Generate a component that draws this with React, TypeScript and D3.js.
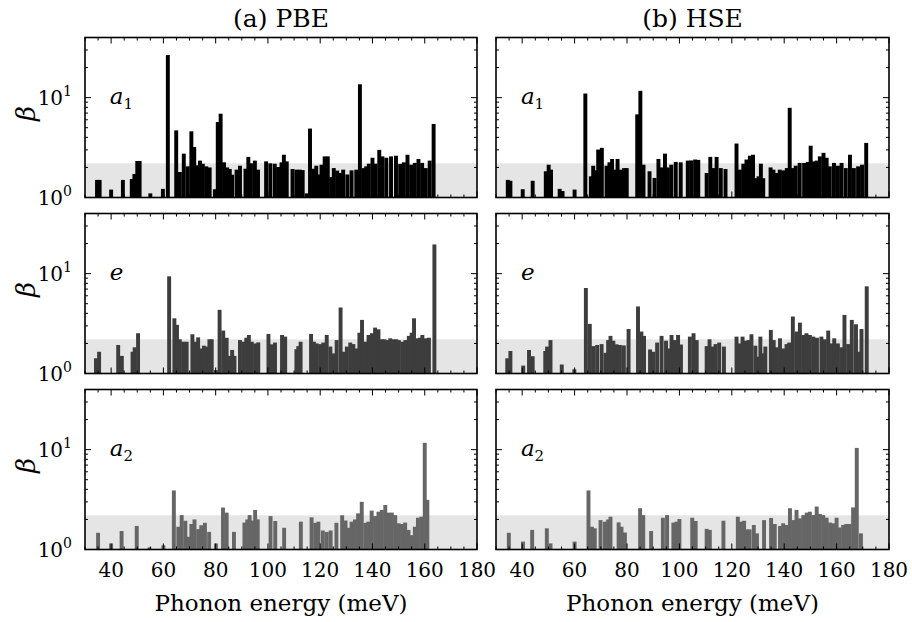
import React from "react";
import * as d3 from "d3";

type Bar = [number, number];

// phonon energy (meV), beta
const pbeA1: Bar[] = [
  [34.6,1.5],[35.6,1.5],[40.0,1.2],[44.5,1.5],[47.9,1.53],[48.9,1.72],[50.0,2.32],[50.9,2.32],[55.0,1.1],[59.8,1.22],
  [61.7,26.7],[64.9,4.7],[66.3,1.8],[67.8,2.75],[69.3,2.05],[70.7,4.6],[71.8,3.2],[72.9,2.1],[74.0,2.34],[75.1,2.18],
  [76.4,2.05],[77.7,2.0],[79.7,1.21],[80.8,5.7],[81.9,6.9],[83.2,2.25],[84.4,2.0],[85.4,1.93],[86.3,1.69],[88.0,1.9],
  [89.3,2.08],[91.4,1.94],[92.5,2.55],[93.5,2.2],[95.0,2.34],[96.2,1.9],[99.3,2.3],[100.9,2.2],[102.6,2.18],[103.9,2.02],
  [105.2,2.25],[106.1,2.68],[107.2,2.3],[109.4,1.93],[110.9,1.9],[112.2,1.9],[113.3,1.88],[114.8,1.1],[116.1,4.9],[117.5,1.94],
  [118.5,2.08],[119.5,1.7],[120.5,2.13],[121.7,2.58],[122.9,2.58],[124.2,1.6],[125.2,1.97],[126.5,1.86],[127.6,1.76],[128.8,1.9],
  [130.4,1.7],[132.0,1.87],[133.8,1.9],[135.2,13.6],[136.5,1.97],[137.6,2.05],[138.6,2.18],[140.0,2.5],[141.2,2.18],[142.6,3.0],
  [143.8,2.58],[145.3,2.5],[147.1,2.58],[149.0,2.62],[150.6,2.17],[152.0,2.25],[153.4,2.68],[154.8,2.13],[156.2,2.22],[157.6,2.43],
  [159.0,2.22],[160.4,1.97],[161.9,2.34],[163.4,5.45],
];

const hseA1: Bar[] = [
  [34.5,1.5],[35.5,1.47],[40.2,1.21],[44.0,1.47],[49.0,1.83],[50.1,2.13],[51.0,1.9],[54.3,1.22],[55.4,1.16],[60.0,1.2],
  [64.1,11.0],[66.2,1.63],[67.1,2.08],[68.0,1.87],[69.0,3.02],[70.4,3.14],[72.2,2.08],[73.3,2.25],[74.3,2.43],[75.3,1.9],
  [76.4,2.43],[77.7,1.9],[78.9,1.97],[79.9,1.97],[83.9,6.8],[85.1,11.7],[86.3,2.13],[88.6,1.83],[90.5,1.57],[92.0,2.43],
  [93.3,2.0],[94.5,2.75],[95.6,2.0],[96.9,2.13],[98.6,2.27],[100.5,2.25],[103.2,2.34],[104.5,2.35],[106.0,2.4],[107.2,2.38],
  [110.4,1.76],[111.8,2.55],[113.0,1.97],[114.2,2.55],[115.8,1.97],[117.6,1.93],[121.8,3.47],[123.1,1.9],[124.4,2.18],[125.6,2.4],
  [126.9,2.62],[128.1,2.68],[129.1,1.56],[130.2,1.63],[131.1,2.18],[132.0,1.56],[134.8,2.0],[135.9,1.9],[137.1,1.76],[138.3,1.9],
  [139.6,1.87],[141.0,1.97],[142.1,7.9],[143.2,1.97],[144.4,2.08],[145.9,2.22],[147.6,2.22],[149.0,2.27],[150.1,3.3],[151.2,2.3],
  [152.4,2.34],[153.6,2.58],[155.0,2.8],[156.2,2.5],[157.4,2.05],[159.0,2.22],[160.5,2.08],[161.9,2.22],[163.5,1.97],[165.1,2.68],
  [166.6,1.97],[168.2,2.05],[169.7,2.13],[171.3,3.52],
];

const pbeE: Bar[] = [
  [34.2,1.42],[35.4,1.65],[42.7,1.93],[44.1,1.5],[48.2,1.65],[49.0,1.83],[50.3,2.53],[62.2,9.4],[64.2,3.57],[65.2,3.07],
  [66.3,2.2],[67.6,2.08],[68.9,2.08],[71.1,2.47],[72.2,2.08],[73.3,2.3],[74.4,1.78],[75.5,1.9],[76.6,1.86],[77.6,2.2],
  [78.5,2.2],[80.1,1.08],[81.5,4.34],[82.9,2.69],[84.2,2.28],[85.4,1.5],[86.3,1.72],[87.2,1.5],[89.3,2.16],[90.6,2.08],
  [91.7,2.28],[92.7,2.43],[93.8,2.08],[95.1,2.0],[96.3,2.05],[100.2,2.49],[101.5,1.96],[102.7,2.04],[105.4,2.43],[106.6,2.34],
  [110.9,1.75],[111.6,1.88],[112.5,2.08],[116.5,2.49],[117.6,2.08],[118.7,2.0],[120.0,1.97],[121.2,2.04],[122.5,2.43],[123.9,1.86],
  [125.2,1.59],[126.3,2.16],[127.8,4.58],[129.1,1.65],[130.2,1.86],[131.5,2.04],[132.7,1.97],[134.0,1.78],[135.0,2.56],[136.0,3.44],
  [137.2,2.08],[138.5,2.43],[139.8,2.53],[141.0,2.88],[142.3,2.77],[143.6,2.2],[144.6,2.2],[145.6,2.16],[146.8,2.25],[148.0,2.2],
  [149.1,2.2],[150.1,2.16],[151.4,2.08],[152.6,2.16],[153.9,2.38],[155.0,2.56],[155.9,3.57],[157.0,2.25],[158.1,2.28],[159.1,2.43],
  [160.2,2.25],[161.6,2.28],[163.7,19.6],
];

const hseE: Bar[] = [
  [34.3,1.42],[35.5,1.68],[40.4,1.2],[42.6,1.72],[44.0,1.49],[48.8,1.68],[49.5,1.86],[50.8,2.16],[55.1,1.23],[59.9,1.1],
  [64.3,7.18],[65.8,3.14],[67.1,1.88],[68.6,1.93],[70.3,1.97],[71.8,1.61],[72.8,2.16],[73.7,2.38],[74.8,2.13],[76.0,1.96],
  [77.3,1.93],[78.8,1.91],[80.6,2.79],[84.2,4.69],[85.5,2.63],[86.5,2.38],[88.8,1.74],[90.0,1.65],[91.5,2.04],[93.2,2.38],
  [94.9,2.13],[95.9,1.78],[97.0,2.43],[98.3,2.16],[99.5,2.43],[100.6,1.95],[104.0,2.34],[105.4,2.53],[106.6,2.16],[110.4,1.88],
  [111.5,2.2],[112.5,1.86],[113.8,1.97],[115.2,2.04],[117.0,1.86],[121.8,2.34],[123.0,2.0],[124.1,2.34],[125.3,2.13],[126.4,2.16],
  [127.5,2.47],[129.0,1.9],[130.1,1.47],[130.9,2.34],[131.8,1.59],[132.8,1.86],[134.9,2.73],[136.0,2.16],[137.1,1.83],[138.4,2.25],
  [139.6,1.78],[140.9,1.97],[141.9,2.04],[143.3,3.72],[144.7,2.63],[146.0,3.23],[147.3,2.43],[148.5,2.53],[149.8,2.43],[151.1,2.34],
  [152.5,2.28],[154.2,2.34],[155.5,2.2],[156.8,2.69],[157.9,2.0],[159.1,2.25],[160.5,2.0],[161.8,1.83],[163.0,3.86],[164.4,1.97],
  [165.8,3.44],[167.4,3.11],[168.4,1.65],[169.5,2.79],[171.5,7.46],
];

const pbeA2: Bar[] = [
  [35.0,1.47],[40.0,1.15],[44.0,1.53],[49.8,1.72],[54.7,1.05],[60.0,1.1],[64.0,3.9],[65.7,1.69],[67.0,2.21],[68.4,1.94],
  [69.6,1.34],[70.7,1.8],[71.9,2.0],[73.3,1.6],[74.5,1.75],[75.9,1.85],[77.5,1.5],[80.1,1.15],[82.8,2.63],[84.2,2.34],
  [87.0,1.5],[91.0,1.86],[92.1,2.0],[93.0,2.21],[93.9,1.95],[95.1,2.49],[96.1,2.0],[101.0,2.16],[102.8,1.93],[106.2,1.65],
  [112.6,1.9],[116.7,2.1],[118.1,1.85],[119.3,1.9],[121.0,1.55],[122.5,1.5],[124.0,1.55],[126.2,1.85],[128.4,2.2],[129.7,1.95],
  [130.7,1.65],[132.0,1.9],[133.3,2.0],[134.5,2.3],[135.9,3.0],[137.3,1.85],[138.4,1.9],[139.7,2.45],[141.0,2.16],[142.3,2.39],
  [143.6,2.49],[144.9,2.79],[146.1,2.34],[147.4,2.34],[148.7,2.21],[150.0,1.83],[151.3,1.8],[152.5,1.86],[153.8,1.57],[155.1,1.39],
  [156.2,1.69],[157.4,2.08],[158.7,2.13],[160.0,11.7],[161.0,3.14],
];

const hseA2: Bar[] = [
  [34.9,1.47],[40.3,1.2],[43.8,1.57],[49.4,1.63],[50.8,1.15],[60.0,1.2],[65.3,3.9],[66.6,1.69],[67.7,1.63],[69.9,1.97],
  [71.6,1.9],[72.8,2.0],[73.7,2.13],[76.8,1.87],[77.9,1.69],[79.2,1.48],[85.0,2.59],[86.2,2.21],[89.2,1.53],[93.7,2.08],
  [95.3,2.21],[97.7,1.86],[98.9,1.9],[100.0,2.02],[104.9,2.08],[106.2,1.93],[110.4,1.61],[111.6,1.57],[116.8,1.94],[122.3,2.13],
  [123.5,1.9],[124.7,1.94],[125.8,1.59],[126.8,1.59],[128.4,1.76],[129.6,1.45],[132.3,1.97],[135.0,2.07],[136.4,1.8],[138.4,1.72],
  [139.6,1.83],[140.9,1.76],[142.2,2.59],[143.5,1.97],[144.7,2.49],[146.0,2.05],[147.3,2.21],[148.6,2.34],[149.8,2.39],[151.1,2.21],
  [152.4,2.69],[153.6,2.27],[154.9,2.21],[156.2,2.08],[157.5,1.86],[158.7,1.83],[160.0,2.08],[161.2,1.66],[162.5,1.76],[163.7,1.8],
  [165.0,1.8],[166.3,2.64],[167.7,10.4],[169.3,1.45],
];

const columnTitles = ["(a) PBE", "(b) HSE"];
const modeBase = ["a", "e", "a"];
const modeSub = ["1", "", "2"];
const xMajorTicks = [40, 60, 80, 100, 120, 140, 160, 180];
const xMinorTicks = d3.range(30, 181, 5).filter((v) => v % 20 !== 0);
const yMajorTicks = [1, 10];
const yMinorTicks = [2, 3, 4, 5, 6, 7, 8, 9, 20, 30, 40];
const bandLimit = 2.2;

const panels: Bar[][][] = [
  [pbeA1, hseA1],
  [pbeE, hseE],
  [pbeA2, hseA2],
];

const W = 912;
const H = 622;
const colX = [85, 496];
const colW = [392, 393];
const rowY = [37.5, 213.5, 389.5];
const rowH = 160;
const barColors = ["#000000", "#3d3d3d", "#666666"];
const FONT = "'DejaVu Serif', serif";
const BAR_W = 1.5;

function Panel({ data, col, row }: { data: Bar[]; col: number; row: number }) {
  const w = colW[col];
  const h = rowH;
  const x = d3.scaleLinear().domain([30, 180]).range([0, w]);
  const y = d3.scaleLog().domain([1, 40]).range([h, 0]);
  const bw = x(30 + BAR_W) - x(30);
  return (
    <g transform={`translate(${colX[col]},${rowY[row]})`}>
      <rect x={0} y={y(bandLimit)} width={w} height={h - y(bandLimit)} fill="#e5e5e5" />
      {data.map(([e, b], i) => (
        <rect
          key={i}
          x={x(e) - bw / 2}
          y={y(b)}
          width={bw}
          height={h - y(b)}
          fill={barColors[row]}
        />
      ))}
      {xMajorTicks.map((t) => (
        <g key={"xm" + t}>
          <line x1={x(t)} x2={x(t)} y1={h} y2={h - 6} stroke="#000" strokeWidth={1} />
          <line x1={x(t)} x2={x(t)} y1={0} y2={6} stroke="#000" strokeWidth={1} />
        </g>
      ))}
      {xMinorTicks.map((t) => (
        <g key={"xn" + t}>
          <line x1={x(t)} x2={x(t)} y1={h} y2={h - 3} stroke="#000" strokeWidth={1} />
          <line x1={x(t)} x2={x(t)} y1={0} y2={3} stroke="#000" strokeWidth={1} />
        </g>
      ))}
      {yMajorTicks.map((t) => (
        <g key={"ym" + t}>
          <line x1={0} x2={6} y1={y(t)} y2={y(t)} stroke="#000" strokeWidth={1} />
          <line x1={w} x2={w - 6} y1={y(t)} y2={y(t)} stroke="#000" strokeWidth={1} />
        </g>
      ))}
      {yMinorTicks.map((t) => (
        <g key={"yn" + t}>
          <line x1={0} x2={3} y1={y(t)} y2={y(t)} stroke="#000" strokeWidth={1} />
          <line x1={w} x2={w - 3} y1={y(t)} y2={y(t)} stroke="#000" strokeWidth={1} />
        </g>
      ))}
      <rect x={0} y={0} width={w} height={h} fill="none" stroke="#000" strokeWidth={1.6} />
      <text x={x(39.5)} y={y(10) + 6} fontFamily={FONT} fontStyle="italic" fontSize={23}>
        {modeBase[row]}
        {modeSub[row] && (
          <tspan fontStyle="normal" fontSize={15} dy={5}>
            {modeSub[row]}
          </tspan>
        )}
      </text>
      {col === 0 &&
        yMajorTicks.map((t, i) => (
          <text key={"yl" + t} x={-13} y={y(t) + 7} textAnchor="end" fontFamily={FONT} fontSize={20}>
            10
            <tspan fontSize={14} dy={-9}>
              {i}
            </tspan>
          </text>
        ))}
      {col === 0 && (
        <text
          transform={`translate(${-50},${h / 2 - 4}) rotate(-90)`}
          textAnchor="middle"
          fontFamily={FONT}
          fontStyle="italic"
          fontSize={26}
        >
          β
        </text>
      )}
      {row === 2 &&
        xMajorTicks.map((t) => (
          <text key={"xl" + t} x={x(t)} y={h + 27} textAnchor="middle" fontFamily={FONT} fontSize={20}>
            {t}
          </text>
        ))}
      {row === 2 && (
        <text x={w / 2} y={h + 61} textAnchor="middle" fontFamily={FONT} fontSize={23}>
          Phonon energy (meV)
        </text>
      )}
      {row === 0 && (
        <text x={w / 2} y={-11} textAnchor="middle" fontFamily={FONT} fontSize={25}>
          {columnTitles[col]}
        </text>
      )}
    </g>
  );
}

export default function App() {
  return (
    <svg
      width={W}
      height={H}
      viewBox={`0 0 ${W} ${H}`}
      style={{ position: "absolute", left: 0, top: 0, background: "#fff" }}
    >
      <rect x={0} y={0} width={W} height={H} fill="#fff" />
      {panels.map((rowData, r) =>
        rowData.map((d, c) => <Panel key={`${r}-${c}`} data={d} col={c} row={r} />)
      )}
    </svg>
  );
}
